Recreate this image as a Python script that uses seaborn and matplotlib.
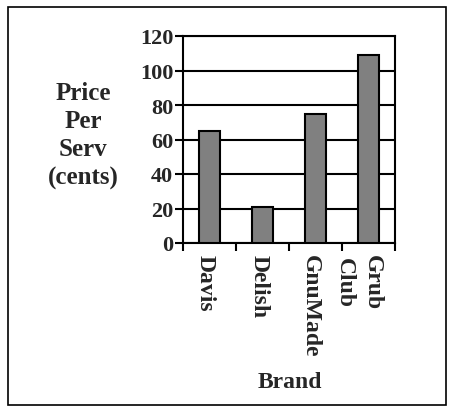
import matplotlib
matplotlib.use("Agg")
import matplotlib.pyplot as plt
import matplotlib.transforms as mtransforms
import seaborn as sns
import pandas as pd
from matplotlib.patches import Rectangle

brands = ["Davis", "Delish", "GnuMade", "Grub\nClub"]
prices = [65, 21, 75, 109]
yticks = [0, 20, 40, 60, 80, 100, 120]

sns.set_theme(style="white")
plt.rcParams['font.family'] = ['Liberation Serif', 'DejaVu Serif']
plt.rcParams['font.weight'] = 'bold'

df = pd.DataFrame({"Brand": brands, "Price": prices})

fig = plt.figure(figsize=(4.56, 4.14), dpi=100)
ax = fig.add_axes([183/456, 1-244/414, (395-183)/456, (244-37)/414])

sns.barplot(data=df, x="Brand", y="Price", ax=ax, color="#808080",
            saturation=1, width=0.4, edgecolor="black", linewidth=1.5, zorder=3)

ax.set_xlim(-0.5, len(brands)-0.5)
ax.set_ylim(0, 120)
ax.set_yticks(yticks)
ax.set_yticklabels([str(t) for t in yticks], fontsize=16, fontweight='bold')
ax.yaxis.grid(True, color="black", linewidth=1.5, zorder=0)
ax.set_axisbelow(True)

ax.set_xticks(range(len(brands)))
ax.set_xticklabels(brands, rotation=-90, fontsize=17, fontweight='bold',
                   va='top', ha='center', linespacing=1.45)
ax.set_xticks([i - 0.5 for i in range(len(brands)+1)], minor=True)
ax.tick_params(axis='x', which='major', length=0, pad=8)
ax.tick_params(axis='x', which='minor', length=6, width=1.5, color='black', direction='out', bottom=True)
ax.tick_params(axis='y', which='major', length=6, width=1.5, color='black', direction='out', left=True, pad=1)

shifts = [-4, -3, -5, -10]
for lab, dx in zip(ax.get_xticklabels(), shifts):
    lab.set_transform(lab.get_transform() + mtransforms.ScaledTranslation(dx/100, 0, fig.dpi_scale_trans))

for s in ax.spines.values():
    s.set_color("black")
    s.set_linewidth(1.5)

ax.set_xlabel("")
ax.set_ylabel("")
fig.text(290/456, 1-383/414, "Brand", ha='center', va='center', fontsize=17, fontweight='bold')
fig.text(83/456, 1-136/414, "Price\nPer\nServ\n(cents)", ha='center', va='center',
         fontsize=18, fontweight='bold', linespacing=1.28)

fig.patches.append(Rectangle((8/456, 8/414), 438/456, 398/414, transform=fig.transFigure,
                             fill=False, edgecolor='black', linewidth=1.2))

fig.savefig("out.png", dpi=100)
